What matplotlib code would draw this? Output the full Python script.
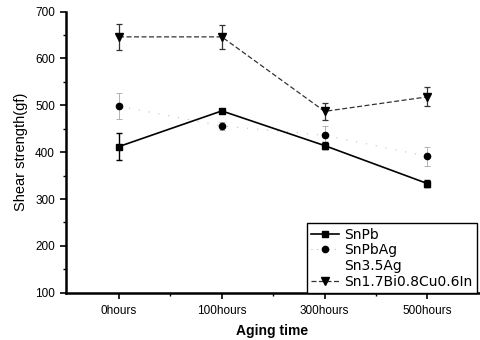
import matplotlib.pyplot as plt
import numpy as np

plt.rcParams['font.family'] = ['Liberation Sans', 'DejaVu Sans']

# --- data ---
aging = ["0hours", "100hours", "300hours", "500hours"]
snpb = [412, 488, 414, 333]
snpb_err = [28, 5, 8, 8]
snpbag = [498, 456, 436, 391]
snpbag_err = [28, 8, 20, 20]
snbicu = [646, 646, 487, 518]
snbicu_err = [27, 25, 18, 20]

x = np.arange(len(aging))

fig = plt.figure(figsize=(4.8, 3.4), dpi=100)
ax = fig.add_axes([0.1375, 0.139, 0.86, 0.827])

# SnPbAg: markers with a faint dotted line and faint error bars
ax.errorbar(x, snpbag, yerr=snpbag_err, fmt='none', ecolor='0.65',
            elinewidth=0.6, capsize=2, capthick=0.6, zorder=2)
ax.plot(x, snpbag, color='0.75', lw=0.8, ls=(0, (1, 8)), zorder=2)
ax.plot(x, snpbag, 'o', color='black', ms=4.5, zorder=3)

# SnPb
ax.errorbar(x, snpb, yerr=snpb_err, color='black', lw=1.2, marker='s', ms=5,
            elinewidth=1.0, capsize=2.5, capthick=1.0, zorder=4)

# Sn1.7Bi0.8Cu0.6In
ax.errorbar(x, snbicu, yerr=snbicu_err, color='0.2', lw=0.9, ls=(0, (4, 2)),
            marker='v', ms=6, mfc='black', mec='black',
            elinewidth=0.9, capsize=2.5, capthick=0.9, zorder=4)

# legend handles
h1, = ax.plot([], [], color='black', lw=1.2, marker='s', ms=5)
h2, = ax.plot([], [], color='0.6', lw=0.6, ls=(0, (1, 6)), marker='o', ms=4.5,
              mfc='black', mec='black')
h3, = ax.plot([], [], ' ')
h4, = ax.plot([], [], color='0.2', lw=0.9, ls=(0, (4, 2)), marker='v', ms=6,
              mfc='black', mec='black')
leg = ax.legend([h1, h2, h3, h4],
                ["SnPb", "SnPbAg", "Sn3.5Ag", "Sn1.7Bi0.8Cu0.6In"],
                loc='lower right', bbox_to_anchor=(0.995, 0.0), borderaxespad=0,
                prop={'family': 'DejaVu Sans', 'size': 10},
                handlelength=2.0, handletextpad=0.4,
                labelspacing=0.12, borderpad=0.3, fancybox=False,
                framealpha=1, edgecolor='black')
leg.get_frame().set_linewidth(1.0)

ax.set_xlim(-0.516, 3.5)
ax.set_ylim(100, 700)
ax.set_xticks(x)
ax.set_xticklabels(aging)
ax.set_xticks(x[:-1] + 0.5, minor=True)
ax.set_yticks(np.arange(100, 701, 100))
ax.set_yticks(np.arange(150, 700, 100), minor=True)

for side in ['top', 'right']:
    ax.spines[side].set_visible(False)
for side in ['left', 'bottom']:
    ax.spines[side].set_linewidth(1.8)

ax.tick_params(which='major', direction='out', length=4, width=1.2,
               labelsize=8.5)
ax.tick_params(axis='x', which='major', pad=5)
ax.tick_params(axis='y', which='major', pad=4)
ax.tick_params(which='minor', direction='out', length=2.5, width=1.0)

ax.set_xlabel("Aging time", fontsize=10, fontweight='bold', labelpad=5)
ax.set_ylabel("Shear strength(gf)", fontsize=10.5, labelpad=5)

fig.savefig("out.png", dpi=100)
